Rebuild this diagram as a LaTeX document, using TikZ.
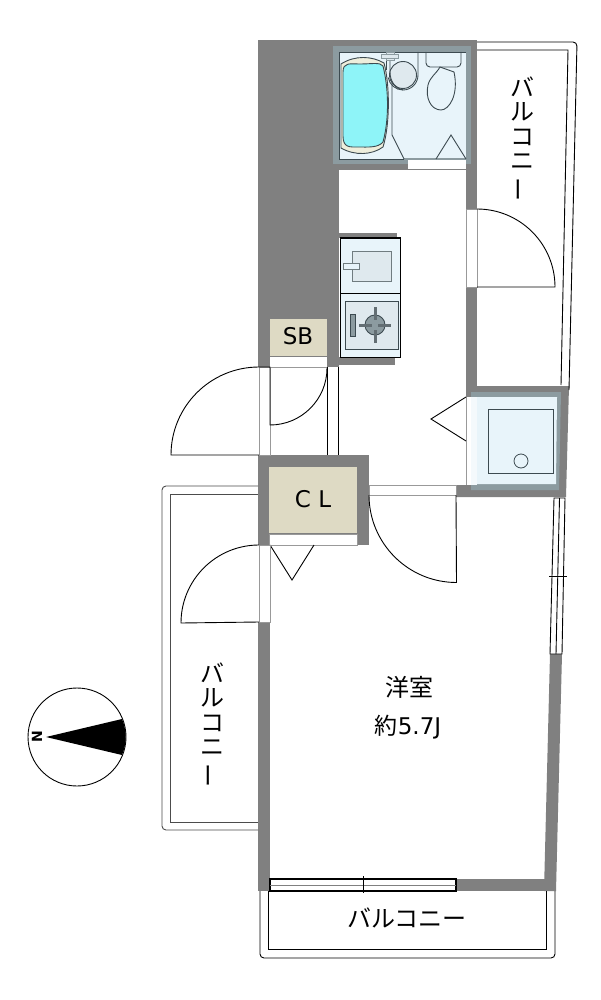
\documentclass[tikz,border=0pt]{standalone}
\usepackage{fontspec}
\setmainfont{DejaVu Sans}
\newfontfamily\jpfont{Noto Sans CJK JP}
\definecolor{wallgray}{HTML}{808080}
\definecolor{framegray}{HTML}{8C9BA0}
\definecolor{roomblue}{HTML}{E8F4FA}
\definecolor{panelblue}{HTML}{DFE9EE}
\definecolor{shelfbeige}{HTML}{DEDAC4}
\definecolor{tubcream}{HTML}{EEEEDC}
\definecolor{tubcyan}{HTML}{8EF4F8}
\definecolor{fixture}{HTML}{3C4A50}
\newcommand{\longbar}{\rotatebox[origin=c]{90}{ー}}

\begin{document}
\begin{tikzpicture}[x=1pt, y=-1pt, line width=1pt,
	wall/.style={fill=wallgray},
	opening/.style={fill=white, draw=wallgray!80},
	thinline/.style={draw=black, line width=0.9pt},
	fixtureline/.style={draw=fixture, line width=0.9pt},
	tatami/.style={font=\jpfont\fontsize{24}{28}\selectfont, align=center},
	balcony/.style={font=\jpfont\fontsize{24}{24.5}\selectfont, align=center},
	label/.style={font=\fontsize{23}{27}\selectfont}]
	\useasboundingbox (0,0) rectangle (600,1000);
	\fill[white] (0,0) rectangle (600,1000);

	\fill[wall] (258,40) rectangle (339,367);
	\fill[wall] (339,40) rectangle (477,170);
	\fill[wall] (466,170) rectangle (477,210);
	\fill[wall] (466,287) rectangle (477,386);
	\fill[wall] (258,455) rectangle (369,545);
	\fill[wall] (339,233) rectangle (397,238);
	\fill[wall] (339,357) rectangle (395,365);
	\fill[wall] (258,622) rectangle (270,891);
	\fill[wall] (258,879) rectangle (556,891);
	\fill[wall] (550,654) -- (562,654) -- (556,891) -- (544,891) -- cycle;
	\fill[wall] (466,386) -- (569,386) -- (566,497) -- (456,497) -- (456,485) -- (466,485) -- cycle;

	\draw[thinline, rounded corners=4pt] (477,42) -- (577,42) -- (569,390);
	\draw[thinline] (477,50) -- (568,50) -- (561,385);
	\draw[thinline, draw=black!70, rounded corners=4pt] (258,486) -- (162,486) -- (162,830) -- (258,830);
	\draw[thinline, draw=black!70] (258,494) -- (170,494) -- (170,822) -- (258,822);
	\draw[thinline, rounded corners=4pt] (260,891) -- (260,958) -- (555,958) -- (555,891);
	\draw[thinline] (268,891) -- (268,949) -- (546,949) -- (546,891);

	\fill[framegray] (333,46) rectangle (471,164);
	\fill[roomblue] (339,52) rectangle (466,159);
	\draw[fixtureline] (339,159) -- (339,52) -- (466,52);
	\draw[fixtureline] (339,159) -- (404,159);
	\draw[draw=framegray] (404,159) -- (466,159);
	\fill[white] (408,160) rectangle (466,169);
	\draw[fill=tubcream, fixtureline] (341,64) .. controls (355,55) and (372,56) .. (384,63) .. controls (390,85) and (390,125) .. (383,147) .. controls (372,155) and (355,156) .. (341,148) -- cycle;
	\draw[fill=tubcyan, fixtureline] (343,72) .. controls (343,62) and (350,64) .. (360,64) .. controls (372,64) and (380,62) .. (383,66) .. controls (389,90) and (389,120) .. (383,142) .. controls (378,148) and (368,147) .. (358,147) .. controls (350,147) and (343,148) .. (343,136) -- cycle;
	\draw[fixtureline] (392,82) -- (392,135) -- (404,159);
	\draw[fixtureline] (418,52) -- (418,75) arc[start angle=0, end angle=170, radius=15];
	\draw[fixtureline, fill=panelblue] (403,75) circle (13.5);
	\draw[fixtureline] (386,60) -- (386,70);
	\draw[fixtureline] (390,60) -- (390,72) .. controls (390,82) and (396,89) .. (403,90);
	\draw[fixtureline, draw=framegray, fill=panelblue] (386,52) rectangle (394,60);
	\draw[fixtureline, draw=framegray, fill=panelblue] (381,54) rectangle (398,58);
	\draw[fixtureline] (426,52) -- (426,63) arc[start angle=180, end angle=90, radius=4] -- (457,67) arc[start angle=90, end angle=0, radius=4] -- (461,52);
	\draw[fixtureline] (440,67) -- (454,72) .. controls (459,95) and (449,110) .. (441,110) .. controls (431,110) and (425,98) .. (428,85) .. controls (430,77) and (436,74) .. cycle;
	\draw[fixtureline] (436,159) -- (451,135) -- (466,159);

	\draw[opening] (466,210) rectangle (477,287);
	\draw[thinline] (477,287) -- (555,287) arc[start angle=0, end angle=-90, radius=78];

	\draw[fill=roomblue, draw=black] (340,238) rectangle (400,357);
	\draw[draw=black] (340,293) -- (400,293);
	\draw[fixtureline, draw=framegray!80!black, fill=panelblue] (352,251) rectangle (391,281);
	\draw[fixtureline, draw=framegray!80!black, fill=roomblue] (343,263) rectangle (359,269);
	\draw[fixtureline, fill=panelblue] (345,301) rectangle (398,349);
	\draw[fixtureline, fill=framegray] (350,314) rectangle (355,336);
	\draw[fixtureline, fill=framegray] (375,325) circle (10);
	\fill[fixture!80] (359,323.5) rectangle (372,326.5);
	\fill[fixture!80] (378,323.5) rectangle (391,326.5);
	\fill[fixture!80] (373.5,307) rectangle (376.5,320);
	\fill[fixture!80] (373.5,330) rectangle (376.5,343);

	\fill[shelfbeige] (270,319) rectangle (327,356);
	\fill[white] (270,357) rectangle (327,367);
	\draw[draw=wallgray!80] (270,367) -- (327,367);
	\node[label] (sb) at (298,336) {SB};

	\draw[opening] (259,367) rectangle (270,455);
	\draw[thinline] (259,367) -- (270,367) -- (270,425) arc[start angle=90, end angle=0, radius=57];
	\draw[thinline] (259,367) arc[start angle=270, end angle=180, radius=88] -- (259,455);
	\draw[thinline] (327.5,367) -- (327.5,455);
	\draw[thinline] (338.5,367) -- (338.5,455);

	\fill[shelfbeige] (269,467) rectangle (357,533);
	\draw[opening] (269,534) rectangle (357,545);
	\node[label] (cl) at (313,499) {C L};
	\draw[thinline] (270,545) -- (292,580) -- (314,545);
	\draw[opening] (259,545) rectangle (270,622);
	\draw[thinline] (259,545) arc[start angle=270, end angle=180, radius=78] -- (259,622);

	\fill[framegray] (471,392) -- (561,392) -- (559,490) -- (471,490) -- cycle;
	\fill[roomblue] (477,397) -- (557,397) -- (556,484) -- (477,484) -- cycle;
	\fill[white] (466,397) rectangle (471,485);
	\fill[roomblue!50] (471,397) rectangle (477,485);
	\draw[draw=wallgray!80] (466,397) -- (466,485);
	\draw[fixtureline] (488,409) rectangle (553,473);
	\draw[fixtureline, line width=0.8pt] (521,461) circle (7);
	\draw[thinline] (466,397) -- (431,419) -- (466,441);

	\draw[opening] (369,485) rectangle (456,495);
	\draw[thinline] (369,495) arc[start angle=180, end angle=90, radius=87.5] -- (456,495);

	\draw[thinline, fill=white] (554,498) -- (565,498) -- (562,654) -- (550,654) -- cycle;
	\draw[thinline] (559.5,498) -- (556,654);
	\draw[thinline, line width=0.7pt] (549,576) -- (567,576);

	\draw[thinline, line width=1.1pt, fill=white] (270,879) rectangle (456,891);
	\draw[draw=wallgray] (270,885) -- (456,885);
	\draw[thinline] (363,876) -- (363,893);

	\node[balcony] (balcony east) at (522,139) {バ\\ル\\コ\\ニ\\\longbar};
	\node[balcony] (balcony west) at (212,725) {バ\\ル\\コ\\ニ\\\longbar};
	\node[balcony] (balcony south) at (407,918) {バルコニー};
	\node[tatami] (room name) at (409,687) {洋室};
	\node[label] (room size) at (408,727) {{\jpfont 約}5.7J};

	\draw[draw=black, line width=0.9pt] (77,737) circle (49);
	\fill[black] (46,737) -- (122,719) .. controls (127,731) and (127,743) .. (122,755) -- cycle;
	\node[rotate=90, font=\bfseries\fontsize{14}{16}\selectfont] (north) at (37,737) {N};
\end{tikzpicture}
\end{document}
